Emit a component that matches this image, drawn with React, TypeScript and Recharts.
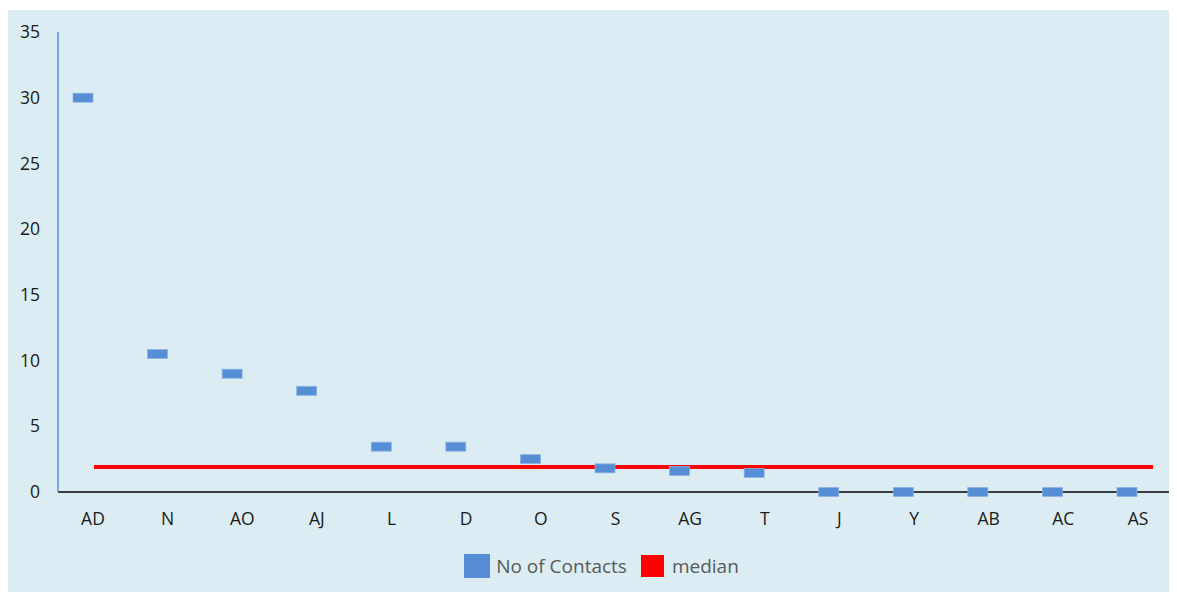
import { ComposedChart, Line, XAxis, YAxis, Legend } from 'recharts';

const categories = ['AD', 'N', 'AO', 'AJ', 'L', 'D', 'O', 'S', 'AG', 'T', 'J', 'Y', 'AB', 'AC', 'AS'];
const contacts = [30, 10.5, 9, 7.7, 3.45, 3.45, 2.5, 1.8, 1.6, 1.45, 0, 0, 0, 0, 0];
const medianValue = 1.9;
const yTicks = [0, 5, 10, 15, 20, 25, 30, 35];

const data = categories.map((name, i) => ({ name, contacts: contacts[i], median: medianValue }));

const FONT = '"Open Sans", "Noto Sans", sans-serif';
const BLUE = '#558ED5';
const RED = '#FF0000';

// little dash marker like the excel one
const DashMarker = (props: any) => {
  const { cx, cy, index } = props;
  if (cx == null || cy == null) return <g key={index} />;
  return (
    <rect key={index} x={cx - 10} y={cy - 4.5} width={20} height={9} fill={BLUE} stroke="#8DB3E2" strokeWidth={0.8} />
  );
};

const LegendContent = () => (
  <div
    style={{
      display: 'flex',
      justifyContent: 'center',
      alignItems: 'center',
      paddingLeft: 18,
      fontFamily: FONT,
      fontSize: 19,
      color: '#595959',
      height: 25,
    }}
  >
    <span style={{ width: 26, height: 24, background: BLUE, display: 'inline-block', marginRight: 6 }} />
    <span style={{ marginRight: 14 }}>No of Contacts</span>
    <span style={{ width: 23, height: 22, background: RED, display: 'inline-block', marginRight: 8 }} />
    <span>median</span>
  </div>
);

export default function App() {
  return (
    <div style={{ position: 'relative', width: 1169, height: 592, marginTop: -8, overflow: 'hidden' }}>
      <div
        style={{
          position: 'absolute',
          left: -1,
          top: -18,
          fontFamily: '"Liberation Sans", Arial, sans-serif',
          fontWeight: 'bold',
          fontSize: 28,
          lineHeight: '28px',
          color: '#000',
        }}
      >
        ammum
      </div>
      <div style={{ position: 'absolute', left: 0, top: 10, width: 1169, height: 582, background: '#DBEDF3' }}>
        <ComposedChart width={1169} height={582} data={data} margin={{ top: 22, right: 3, left: 0, bottom: 35 }}>
          <XAxis
            dataKey="name"
            padding={{ left: 35, right: 36 }}
            axisLine={{ stroke: '#000', strokeWidth: 1.5 }}
            tickLine={false}
            tickMargin={15}
            height={40}
            tick={{ fontSize: 17.5, fill: '#1a1a1a', fontFamily: FONT }}
            interval={0}
          />
          <XAxis xAxisId="marks" dataKey="name" padding={{ left: 25, right: 47 }} hide />
          <XAxis xAxisId="med" dataKey="name" padding={{ left: 36, right: 21 }} hide />
          <YAxis
            domain={[0, 35]}
            ticks={yTicks}
            width={50}
            axisLine={{ stroke: BLUE, strokeWidth: 1.5 }}
            tickLine={false}
            tickMargin={12}
            tick={{ fontSize: 17.5, fill: '#1a1a1a', fontFamily: FONT }}
          />
          <Line
            xAxisId="med"
            dataKey="median"
            stroke={RED}
            strokeWidth={4}
            dot={false}
            activeDot={false}
            isAnimationActive={false}
          />
          <Line
            xAxisId="marks"
            dataKey="contacts"
            stroke="none"
            dot={DashMarker}
            activeDot={false}
            isAnimationActive={false}
          />
          <Legend content={LegendContent} wrapperStyle={{ left: 0, width: 1169, top: 543 }} />
        </ComposedChart>
      </div>
    </div>
  );
}
